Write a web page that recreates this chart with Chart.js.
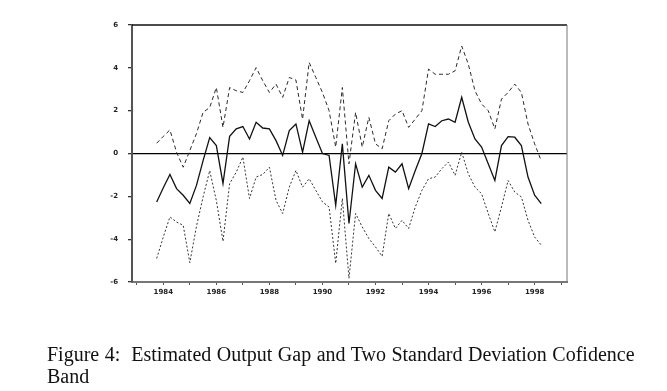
<!DOCTYPE html>
<html>
<head>
<meta charset="utf-8">
<script src="https://cdn.jsdelivr.net/npm/chart.js@4/dist/chart.umd.min.js"></script>
<style>
  body { margin: 0; background: #fff; }
  #wrap { position: relative; width: 667px; height: 391px; }
  #caption {
    position: absolute; left: 47px; top: 343px; width: 615px;
    font-family: "Liberation Serif", "DejaVu Serif", serif;
    font-size: 20px; line-height: 22px; color: #111; word-spacing: 0.5px;
  }
</style>
</head>
<body>
<div id="wrap">
  <canvas id="gapChart" width="667" height="391"></canvas>
  <div id="caption">Figure 4:&nbsp; Estimated Output Gap and Two Standard Deviation Cofidence<br>Band</div>
</div>
<script>
// quarterly dates, 1983Q4 .. 1998Q2
const quarters = [
    1983.75, 1984.00, 1984.25, 1984.50, 1984.75, 1985.00, 1985.25, 1985.50, 1985.75,
    1986.00, 1986.25, 1986.50, 1986.75, 1987.00, 1987.25, 1987.50, 1987.75,
    1988.00, 1988.25, 1988.50, 1988.75, 1989.00, 1989.25, 1989.50, 1989.75,
    1990.00, 1990.25, 1990.50, 1990.75, 1991.00, 1991.25, 1991.50, 1991.75,
    1992.00, 1992.25, 1992.50, 1992.75, 1993.00, 1993.25, 1993.50, 1993.75,
    1994.00, 1994.25, 1994.50, 1994.75, 1995.00, 1995.25, 1995.50, 1995.75,
    1996.00, 1996.25, 1996.50, 1996.75, 1997.00, 1997.25, 1997.50, 1997.75,
    1998.00, 1998.25
];

// estimated output gap
const gap = [
    -2.26, -1.6, -0.98, -1.64, -1.95, -2.33, -1.49, -0.33, 0.74, 0.37,
    -1.4, 0.8, 1.15, 1.26, 0.68, 1.46, 1.19, 1.15, 0.6, -0.09,
    1.07, 1.38, 0.06, 1.53, 0.76, 0.0, -0.09, -2.42, 0.45, -3.27,
    -0.48, -1.57, -1.02, -1.72, -2.1, -0.64, -0.87, -0.48, -1.64, -0.79,
    0.0, 1.38, 1.26, 1.53, 1.61, 1.46, 2.62, 1.46, 0.68, 0.3,
    -0.48, -1.26, 0.37, 0.79, 0.76, 0.37, -1.1, -1.95, -2.34
];

// upper two-s.d. band
const upper = [
    0.48, 0.8, 1.1, 0.06, -0.64, 0.14, 0.93, 1.92, 2.15, 3.08,
    1.22, 3.08, 2.93, 2.85, 3.4, 4.01, 3.4, 2.85, 3.24, 2.62,
    3.55, 3.43, 1.6, 4.25, 3.55, 2.85, 2.0, 0.3, 3.08, -0.48,
    1.92, 0.3, 1.69, 0.45, 0.22, 1.53, 1.84, 2.0, 1.22, 1.61,
    2.0, 3.94, 3.7, 3.7, 3.7, 3.86, 5.02, 4.17, 2.93, 2.31,
    2.0, 1.15, 2.54, 2.85, 3.24, 2.85, 1.38, 0.45, -0.35
];

// lower two-s.d. band
const lower = [
    -4.9, -3.9, -2.96, -3.2, -3.35, -5.1, -3.4, -2.03, -0.8, -2.2,
    -4.1, -1.41, -0.87, -0.17, -2.1, -1.1, -0.98, -0.64, -2.19, -2.8,
    -1.57, -0.79, -1.57, -1.18, -1.72, -2.26, -2.5, -5.13, -2.1, -5.83,
    -2.8, -3.43, -3.97, -4.36, -4.8, -2.8, -3.5, -3.12, -3.5, -2.5,
    -1.72, -1.18, -1.1, -0.71, -0.4, -1.02, 0.06, -0.95, -1.57, -1.88,
    -2.8, -3.66, -2.5, -1.26, -1.8, -2.03, -3.12, -3.9, -4.28
];

const yTicks = [-6, -4, -2, 0, 2, 4, 6];

const toPoints = (vals) => vals.map((v, i) => ({ x: quarters[i], y: v }));

// top and right edges of the box
const frame = {
    id: 'frame',
    afterDraw(chart) {
        const a = chart.chartArea, c = chart.ctx;
        c.save();
        c.strokeStyle = '#111';
        c.lineWidth = 1.5;
        c.beginPath();
        c.moveTo(a.left, a.top);
        c.lineTo(a.right, a.top);
        c.stroke();
        c.strokeStyle = '#777';
        c.lineWidth = 1;
        c.beginPath();
        c.moveTo(a.right, a.top);
        c.lineTo(a.right, a.bottom);
        c.stroke();
        c.restore();
    }
};

const tickFont = { family: 'DejaVu Sans', size: 7, weight: 'bold' };

new Chart(document.getElementById('gapChart').getContext('2d'), {
    type: 'line',
    data: {
        datasets: [{
            label: 'Upper',
            data: toPoints(upper),
            borderColor: '#2a2a2a',
            borderWidth: 1,
            borderDash: [4, 3],
            pointRadius: 0,
            tension: 0
        }, {
            label: 'Gap',
            data: toPoints(gap),
            borderColor: '#111',
            borderWidth: 1.3,
            pointRadius: 0,
            tension: 0
        }, {
            label: 'Lower',
            data: toPoints(lower),
            borderColor: '#333',
            borderWidth: 1,
            borderDash: [2, 2],
            pointRadius: 0,
            tension: 0
        }]
    },
    options: {
        responsive: false,
        animation: false,
        layout: { padding: { left: 0, top: 25, right: 100, bottom: 89 } },
        plugins: { legend: { display: false }, tooltip: { enabled: false } },
        scales: {
            x: {
                type: 'linear',
                min: 1982.82,
                max: 1999.22,
                afterFit: (s) => { s.height = 20; },
                border: { color: '#777', width: 2 },
                grid: { drawOnChartArea: false, tickLength: 3, tickColor: '#555' },
                ticks: {
                    stepSize: 1,
                    includeBounds: false,
                    autoSkip: false,
                    maxRotation: 0,
                    padding: 3,
                    color: '#222',
                    font: tickFont,
                    callback: (v) => (v % 2 === 0 ? String(v) : '')
                }
            },
            y: {
                min: -6,
                max: 6,
                afterFit: (s) => { s.width = 132; },
                afterBuildTicks: (s) => { s.ticks = yTicks.map(v => ({ value: v })); },
                border: { color: '#555', width: 2 },
                grid: {
                    drawOnChartArea: true,
                    tickLength: 4,
                    tickColor: '#333',
                    lineWidth: 1.3,
                    color: (ctx) => (ctx.tick && ctx.tick.value === 0 ? '#000' : 'rgba(0,0,0,0)')
                },
                ticks: { padding: 10, color: '#222', font: tickFont }
            }
        }
    },
    plugins: [frame]
});
</script>
</body>
</html>
